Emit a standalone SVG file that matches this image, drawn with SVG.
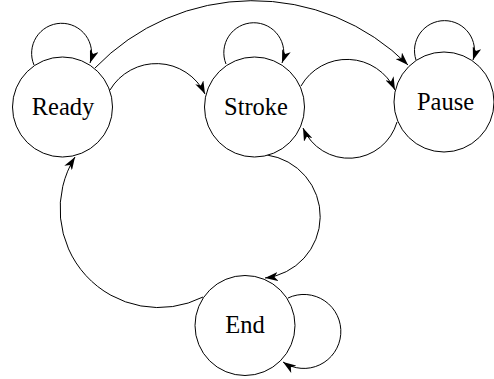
<svg xmlns="http://www.w3.org/2000/svg" width="494" height="379" viewBox="0 0 494 379">
<defs>
<marker id="arr" markerUnits="userSpaceOnUse" markerWidth="14" markerHeight="9" viewBox="0 0 14 9" refX="13" refY="4.5" orient="auto">
<path d="M0,0 L13,4.5 L0,9 L3.5,4.5 Z" fill="#000"/>
</marker>
</defs>
<style>
.st{fill:#fff;stroke:#000;stroke-width:1}
.edge{fill:none;stroke:#000;stroke-width:1;marker-end:url(#arr)}
</style>
<rect width="494" height="379" fill="#fff"/>
<g id="connectors">
<path class="edge" d="M34,65 A30,30 0 1 1 90,63"/>
<path class="edge" d="M226,64 A30,30 0 1 1 282,63"/>
<path class="edge" d="M416,60 A30,30 0 1 1 473,60"/>
<path class="edge" d="M288,298 A37,37 0 1 1 283,362"/>
<path class="edge" d="M95,68 A219,219 0 0 1 408,65"/>
<path class="edge" d="M110,90 A54,54 0 0 1 205,94"/>
<path class="edge" d="M301,86 A53,53 0 0 1 395,90"/>
<path class="edge" d="M397,122 A50,50 0 0 1 303,128"/>
<path class="edge" d="M267,155 A62,62 0 0 1 265,278"/>
<path class="edge" d="M203,297 A98.5,98.5 0 0 1 75,157"/>
</g>
<g id="ready"><circle class="st" cx="62.5" cy="107" r="50"/><text x="63" y="115" font-family="Liberation Serif" font-size="24.5" text-anchor="middle">Ready</text></g>
<g id="stroke"><circle class="st" cx="254.5" cy="107" r="50"/><text x="256" y="115" font-family="Liberation Serif" font-size="24.5" text-anchor="middle">Stroke</text></g>
<g id="pause"><circle class="st" cx="444" cy="102" r="50"/><text x="445.5" y="110" font-family="Liberation Serif" font-size="24.5" text-anchor="middle">Pause</text></g>
<g id="end"><circle class="st" cx="245" cy="325.5" r="50"/><text x="245" y="333" font-family="Liberation Serif" font-size="24.5" text-anchor="middle">End</text></g>
</svg>
